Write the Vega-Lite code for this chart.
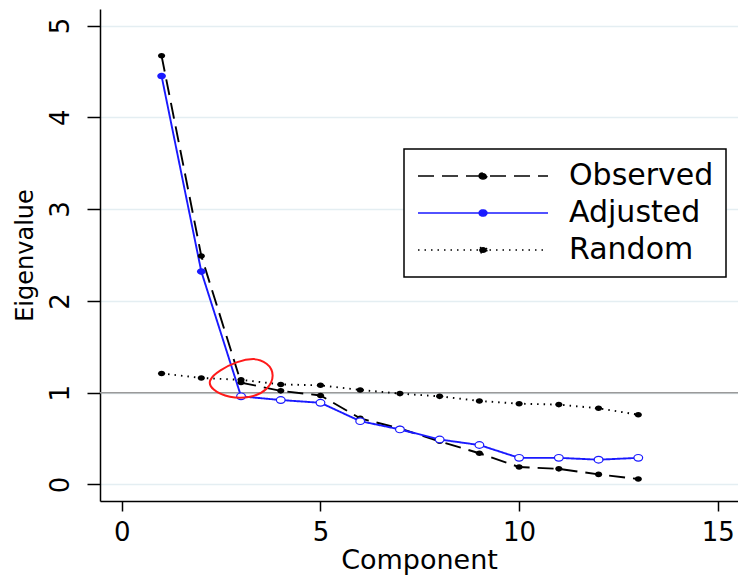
{
  "$schema": "https://vega.github.io/schema/vega-lite/v6.json",
  "width": 638,
  "height": 492,
  "autosize": "none",
  "padding": {"left": 100, "top": 9, "right": 0, "bottom": 75},
  "background": "white",
  "config": {
    "view": {"stroke": null},
    "font": "DejaVu Sans",
    "axis": {"domainColor": "#000", "domainWidth": 1.5, "tickColor": "#000", "tickWidth": 1.5, "labelColor": "#000", "labelFontSize": 26, "titleColor": "#000", "titleFontWeight": "normal", "labelFlush": false, "labelOverlap": false, "gridColor": "#e4eef2", "gridWidth": 1.5},
    "axisX": {"grid": false, "tickSize": 10, "labelPadding": 8, "titleFontSize": 27, "titlePadding": 2},
    "axisY": {"grid": true, "tickSize": 13, "labelPadding": 14, "labelAngle": -90, "titleFontSize": 24, "titlePadding": 10}
  },
  "data": {
    "values": [
      {"component": 1, "series": "Observed", "eigen": 4.67, "retained": true},
      {"component": 2, "series": "Observed", "eigen": 2.49, "retained": true},
      {"component": 3, "series": "Observed", "eigen": 1.11, "retained": false},
      {"component": 4, "series": "Observed", "eigen": 1.02, "retained": false},
      {"component": 5, "series": "Observed", "eigen": 0.97, "retained": false},
      {"component": 6, "series": "Observed", "eigen": 0.72, "retained": false},
      {"component": 7, "series": "Observed", "eigen": 0.61, "retained": false},
      {"component": 8, "series": "Observed", "eigen": 0.47, "retained": false},
      {"component": 9, "series": "Observed", "eigen": 0.34, "retained": false},
      {"component": 10, "series": "Observed", "eigen": 0.19, "retained": false},
      {"component": 11, "series": "Observed", "eigen": 0.17, "retained": false},
      {"component": 12, "series": "Observed", "eigen": 0.11, "retained": false},
      {"component": 13, "series": "Observed", "eigen": 0.06, "retained": false},
      {"component": 1, "series": "Adjusted", "eigen": 4.45, "retained": true},
      {"component": 2, "series": "Adjusted", "eigen": 2.32, "retained": true},
      {"component": 3, "series": "Adjusted", "eigen": 0.96, "retained": false},
      {"component": 4, "series": "Adjusted", "eigen": 0.92, "retained": false},
      {"component": 5, "series": "Adjusted", "eigen": 0.89, "retained": false},
      {"component": 6, "series": "Adjusted", "eigen": 0.69, "retained": false},
      {"component": 7, "series": "Adjusted", "eigen": 0.6, "retained": false},
      {"component": 8, "series": "Adjusted", "eigen": 0.49, "retained": false},
      {"component": 9, "series": "Adjusted", "eigen": 0.43, "retained": false},
      {"component": 10, "series": "Adjusted", "eigen": 0.29, "retained": false},
      {"component": 11, "series": "Adjusted", "eigen": 0.29, "retained": false},
      {"component": 12, "series": "Adjusted", "eigen": 0.27, "retained": false},
      {"component": 13, "series": "Adjusted", "eigen": 0.29, "retained": false},
      {"component": 1, "series": "Random", "eigen": 1.21, "retained": false},
      {"component": 2, "series": "Random", "eigen": 1.16, "retained": false},
      {"component": 3, "series": "Random", "eigen": 1.14, "retained": false},
      {"component": 4, "series": "Random", "eigen": 1.09, "retained": false},
      {"component": 5, "series": "Random", "eigen": 1.08, "retained": false},
      {"component": 6, "series": "Random", "eigen": 1.03, "retained": false},
      {"component": 7, "series": "Random", "eigen": 0.99, "retained": false},
      {"component": 8, "series": "Random", "eigen": 0.96, "retained": false},
      {"component": 9, "series": "Random", "eigen": 0.91, "retained": false},
      {"component": 10, "series": "Random", "eigen": 0.88, "retained": false},
      {"component": 11, "series": "Random", "eigen": 0.87, "retained": false},
      {"component": 12, "series": "Random", "eigen": 0.83, "retained": false},
      {"component": 13, "series": "Random", "eigen": 0.76, "retained": false}
    ]
  },
  "layer": [
    {
      "data": {"values": [{"eigen": 1}]},
      "mark": {"type": "rule", "color": "#9a9a9a", "strokeWidth": 1.5},
      "encoding": {
        "y": {"field": "eigen", "type": "quantitative", "scale": {"domain": [-0.18, 5.18], "nice": false, "zero": false}, "axis": {"values": [0, 1, 2, 3, 4, 5], "title": "Eigenvalue"}}
      }
    },
    {
      "mark": {"type": "line", "strokeWidth": 1.9},
      "encoding": {
        "x": {"field": "component", "type": "quantitative", "scale": {"domain": [-0.55, 15.51], "nice": false, "zero": false}, "axis": {"values": [0, 5, 10, 15], "title": "Component"}},
        "y": {"field": "eigen", "type": "quantitative", "scale": {"domain": [-0.18, 5.18], "nice": false, "zero": false}, "axis": {"values": [0, 1, 2, 3, 4, 5], "title": "Eigenvalue"}},
        "color": {
          "field": "series", "type": "nominal",
          "scale": {"domain": ["Observed", "Adjusted", "Random"], "range": ["#000000", "#1a1aff", "#000000"]},
          "legend": {
            "orient": "none", "legendX": 304, "legendY": 140, "title": null, "direction": "vertical",
            "symbolType": "M-5,0L5,0M0.3,0A0.3,0.24 0 1,1 -0.3,0A0.3,0.24 0 1,1 0.3,0Z",
            "symbolSize": 676, "symbolStrokeWidth": 1.5, "symbolOffset": 52,
            "labelOffset": 71, "labelFontSize": 30, "labelColor": "#000", "labelLimit": 400,
            "rowPadding": 7, "padding": 12, "strokeColor": "#000", "fillColor": "#fff", "cornerRadius": 0,
            "encode": {
              "symbols": {"update": {"fill": {"scale": "color", "field": "value"}, "stroke": {"scale": "color", "field": "value"}, "strokeDash": {"scale": "strokeDash", "field": "value"}, "opacity": {"value": 1}}},
              "legend": {"update": {"strokeWidth": {"value": 1.5}}}
            }
          }
        },
        "strokeDash": {
          "field": "series", "type": "nominal",
          "scale": {"domain": ["Observed", "Adjusted", "Random"], "range": [[16, 8], [1, 0], [1.5, 5]]},
          "legend": null
        }
      }
    },
    {
      "transform": [{"filter": "datum.series != 'Adjusted'"}],
      "mark": {"type": "point", "filled": true, "opacity": 1, "size": 52, "shape": "M1,0A1,0.77 0 1,1 -1,0A1,0.77 0 1,1 1,0Z"},
      "encoding": {
        "x": {"field": "component", "type": "quantitative", "scale": {"domain": [-0.55, 15.51], "nice": false, "zero": false}, "axis": {"values": [0, 5, 10, 15], "title": "Component"}},
        "y": {"field": "eigen", "type": "quantitative", "scale": {"domain": [-0.18, 5.18], "nice": false, "zero": false}, "axis": {"values": [0, 1, 2, 3, 4, 5], "title": "Eigenvalue"}},
        "color": {"field": "series", "type": "nominal"}
      }
    },
    {
      "transform": [{"filter": "datum.series == 'Adjusted' && datum.retained"}],
      "mark": {"type": "point", "filled": true, "opacity": 1, "size": 76, "shape": "M1,0A1,0.77 0 1,1 -1,0A1,0.77 0 1,1 1,0Z"},
      "encoding": {
        "x": {"field": "component", "type": "quantitative", "scale": {"domain": [-0.55, 15.51], "nice": false, "zero": false}, "axis": {"values": [0, 5, 10, 15], "title": "Component"}},
        "y": {"field": "eigen", "type": "quantitative", "scale": {"domain": [-0.18, 5.18], "nice": false, "zero": false}, "axis": {"values": [0, 1, 2, 3, 4, 5], "title": "Eigenvalue"}},
        "color": {"field": "series", "type": "nominal"}
      }
    },
    {
      "transform": [{"filter": "datum.series == 'Adjusted' && !datum.retained"}],
      "mark": {"type": "point", "filled": false, "fill": "white", "opacity": 1, "size": 76, "strokeWidth": 1.2, "shape": "M1,0A1,0.77 0 1,1 -1,0A1,0.77 0 1,1 1,0Z"},
      "encoding": {
        "x": {"field": "component", "type": "quantitative", "scale": {"domain": [-0.55, 15.51], "nice": false, "zero": false}, "axis": {"values": [0, 5, 10, 15], "title": "Component"}},
        "y": {"field": "eigen", "type": "quantitative", "scale": {"domain": [-0.18, 5.18], "nice": false, "zero": false}, "axis": {"values": [0, 1, 2, 3, 4, 5], "title": "Eigenvalue"}},
        "color": {"field": "series", "type": "nominal"}
      }
    },
    {
      "data": {"values": [{"component": 2.99, "eigen": 1.15}]},
      "mark": {"type": "point", "filled": false, "opacity": 1, "size": 4356, "stroke": "#ff1a1a", "strokeWidth": 2,
        "shape": "M-0.92,0.04Q-0.98,0.18 -0.805,0.33Q-0.63,0.48 -0.325,0.54Q-0.02,0.6 0.29,0.54Q0.6,0.48 0.785,0.3Q0.97,0.12 0.97,-0.1Q0.97,-0.32 0.785,-0.46Q0.6,-0.6 0.38,-0.6Q0.16,-0.6 -0.1,-0.51Q-0.36,-0.42 -0.61,-0.26Q-0.86,-0.1 -0.92,0.04Z"},
      "encoding": {
        "x": {"field": "component", "type": "quantitative", "scale": {"domain": [-0.55, 15.51], "nice": false, "zero": false}, "axis": {"values": [0, 5, 10, 15], "title": "Component"}},
        "y": {"field": "eigen", "type": "quantitative", "scale": {"domain": [-0.18, 5.18], "nice": false, "zero": false}, "axis": {"values": [0, 1, 2, 3, 4, 5], "title": "Eigenvalue"}}
      }
    }
  ]
}
